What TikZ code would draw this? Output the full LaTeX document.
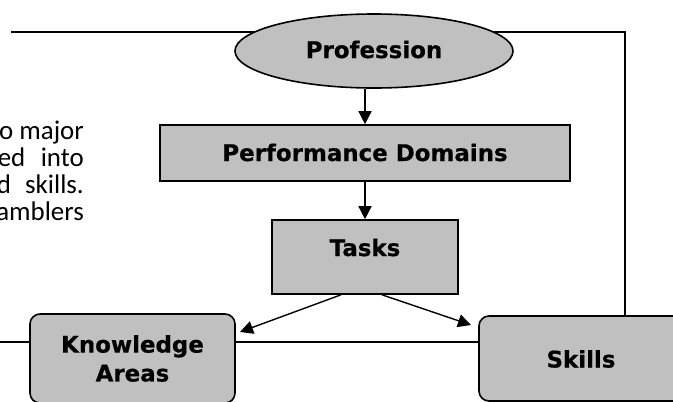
\documentclass[tikz,border=0pt]{standalone}
\usepackage{fontspec}
\setmainfont{DejaVu Sans}[BoldFeatures={FakeBold=0.5}]
\newfontfamily\bodyfont{Carlito}
\usetikzlibrary{shapes.geometric,arrows.meta,backgrounds}
\begin{document}
\begin{tikzpicture}[x=1bp,y=-1bp,
  box/.style={draw=black,line width=1.6bp,fill=boxgray,inner xsep=0pt,inner ysep=0pt,
    font=\fontsize{23}{29}\selectfont\bfseries},
  conn/.style={draw=black,line width=1.4bp},
  arr/.style={conn,-{Triangle[length=13bp,width=13bp]}}]
\definecolor{boxgray}{HTML}{C0C0C0}
\useasboundingbox (0,0) rectangle (673,401);
\clip (0,0) rectangle (673,401);
% nodes
\node[box,ellipse,minimum width=278bp,minimum height=74bp,text height=19bp,text depth=5bp] (prof) at (374,51) {Profession};
\node[box,rectangle,minimum width=410bp,minimum height=56bp,text height=18bp,text depth=2bp] (pd) at (365,153) {Performance Domains};
\node[box,rectangle,minimum width=186bp,minimum height=74bp,text height=19bp,text depth=21bp] (tasks) at (365,257) {Tasks};
\node[box,rectangle,rounded corners=10bp,minimum width=205bp,minimum height=89bp,align=center] (ka) at (132.5,358.5) {Knowledge\\Areas};
\node[box,rectangle,rounded corners=10bp,minimum width=204bp,minimum height=85bp,text height=18bp,text depth=0bp] (skills) at (581,358.5) {Skills};
\node[anchor=north east,align=right,inner sep=0pt,font=\bodyfont\fontsize{27}{27}\selectfont] (para) at (84,121)
  {o major\\ed\hspace{0.35em} into\\d\hspace{0.3em} skills.\\amblers};
% coordinates
\coordinate (tl) at (11,32);
\coordinate (tr) at (625,32);
\coordinate (hl) at (0,342);
\coordinate (kaTip) at (240,332);
\coordinate (skTip) at (471,325);
% connectors
\begin{scope}[on background layer]
\draw[conn] (tl) -- (tr) -- (tr |- skills.north);
\end{scope}
\draw[conn] (hl) -- (hl -| ka.west);
\draw[conn] (ka.east |- hl) -- (skills.west |- hl);
\draw[arr] (prof.south -| pd.north) -- (pd.north);
\draw[arr] (pd.south) -- (tasks.north);
\draw[arr] ([xshift=-24bp]tasks.south) -- (kaTip);
\draw[arr] ([xshift=17bp]tasks.south) -- (skTip);
\end{tikzpicture}
\end{document}
